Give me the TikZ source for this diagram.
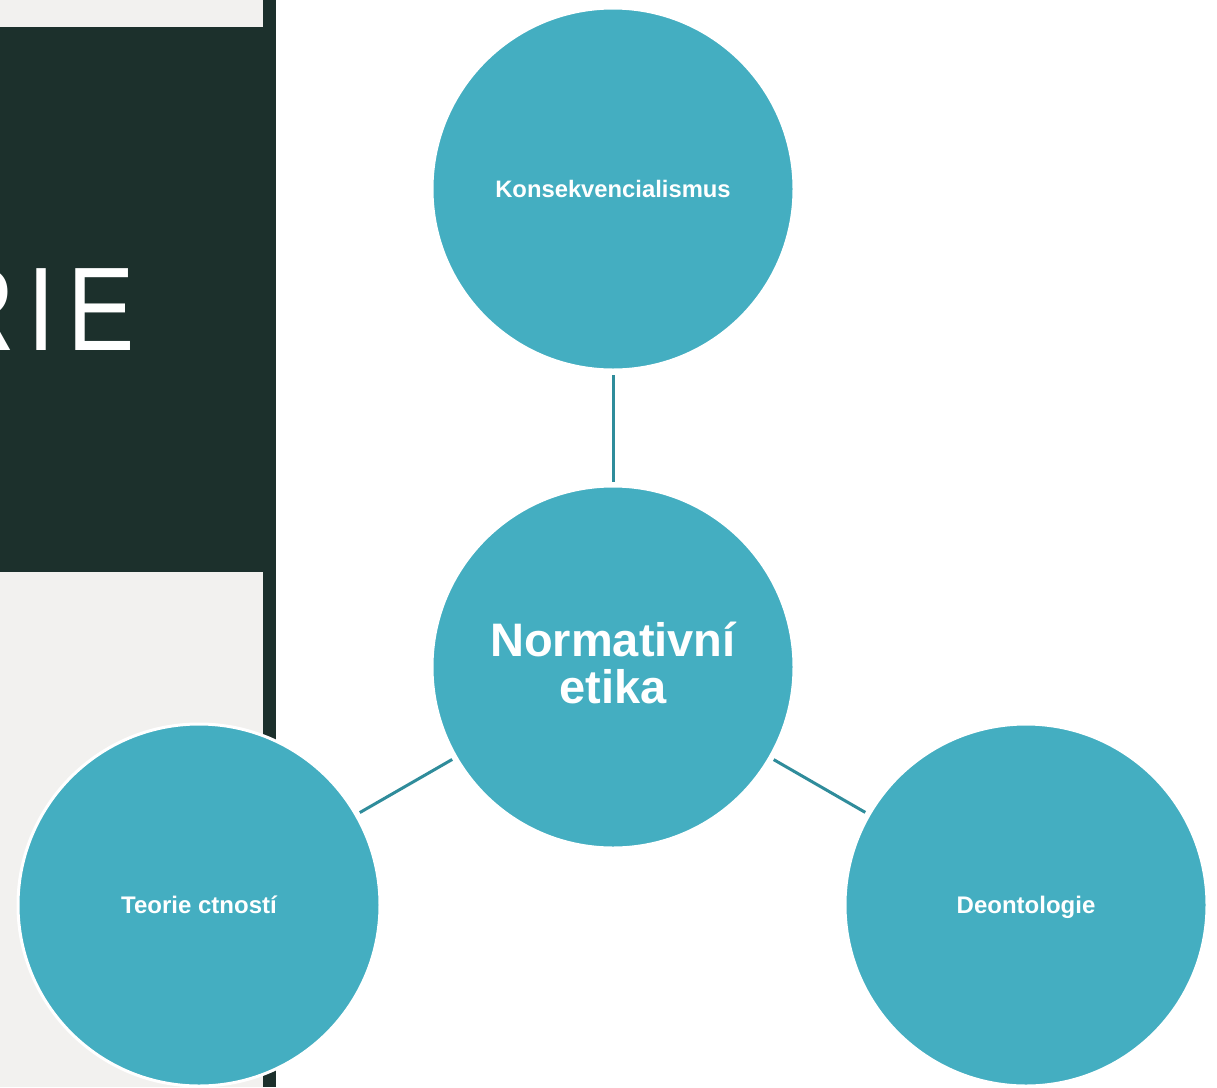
\documentclass[tikz,border=0pt]{standalone}
\usepackage{fontspec}
\setmainfont{Liberation Sans}
\newfontfamily\titlefont[LetterSpace=12]{Liberation Sans}
\definecolor{bubblefill}{HTML}{44AEC1}
\definecolor{linkcol}{HTML}{2F8C9B}
\definecolor{paneldark}{HTML}{1C302C}
\definecolor{panelgray}{HTML}{F2F1EF}
\begin{document}
\begin{tikzpicture}[x=1pt,y=-1pt,
  bubble/.style={circle, fill=bubblefill, draw=white, line width=3pt,
    minimum size=362pt, inner sep=0pt, text=white, align=center},
  smalltext/.style={font=\bfseries\fontsize{24}{28}\selectfont, text height=17pt, text depth=0pt},
  bigtext/.style={font=\bfseries\fontsize{47}{47}\selectfont, text depth=8pt},
  link/.style={draw=linkcol, line width=3pt, shorten <=3pt, shorten >=3pt}]
\useasboundingbox (0,0) rectangle (1217,1087);
\fill[white] (0,0) rectangle (1217,1087);
\fill[panelgray] (0,0) rectangle (263,1087);
\fill[paneldark] (263,0) rectangle (276,1087);
\fill[paneldark] (0,27) rectangle (276,572);
\begin{scope}
\clip (0,27) rectangle (276,572);
\node[anchor=base west, text=white, font=\titlefont\fontsize{119}{119}\selectfont,
  xscale=0.848, inner sep=0pt] (title) at (-57.4,350) {RIE};
\end{scope}
\node[bubble, smalltext, font=\bfseries\fontsize{23.8}{28}\selectfont] (kons) at (613,189) {Konsekvencialismus};
\node[bubble, bigtext] (norm) at (613,667) {Normativní\\etika};
\node[bubble, smalltext] (teor) at (199,905) {Teorie ctností};
\node[bubble, smalltext] (deon) at (1026,905) {Deontologie};
\draw[link] (norm) -- (kons);
\draw[link] (norm) -- (teor);
\draw[link] (norm) -- (deon);
\end{tikzpicture}
\end{document}
